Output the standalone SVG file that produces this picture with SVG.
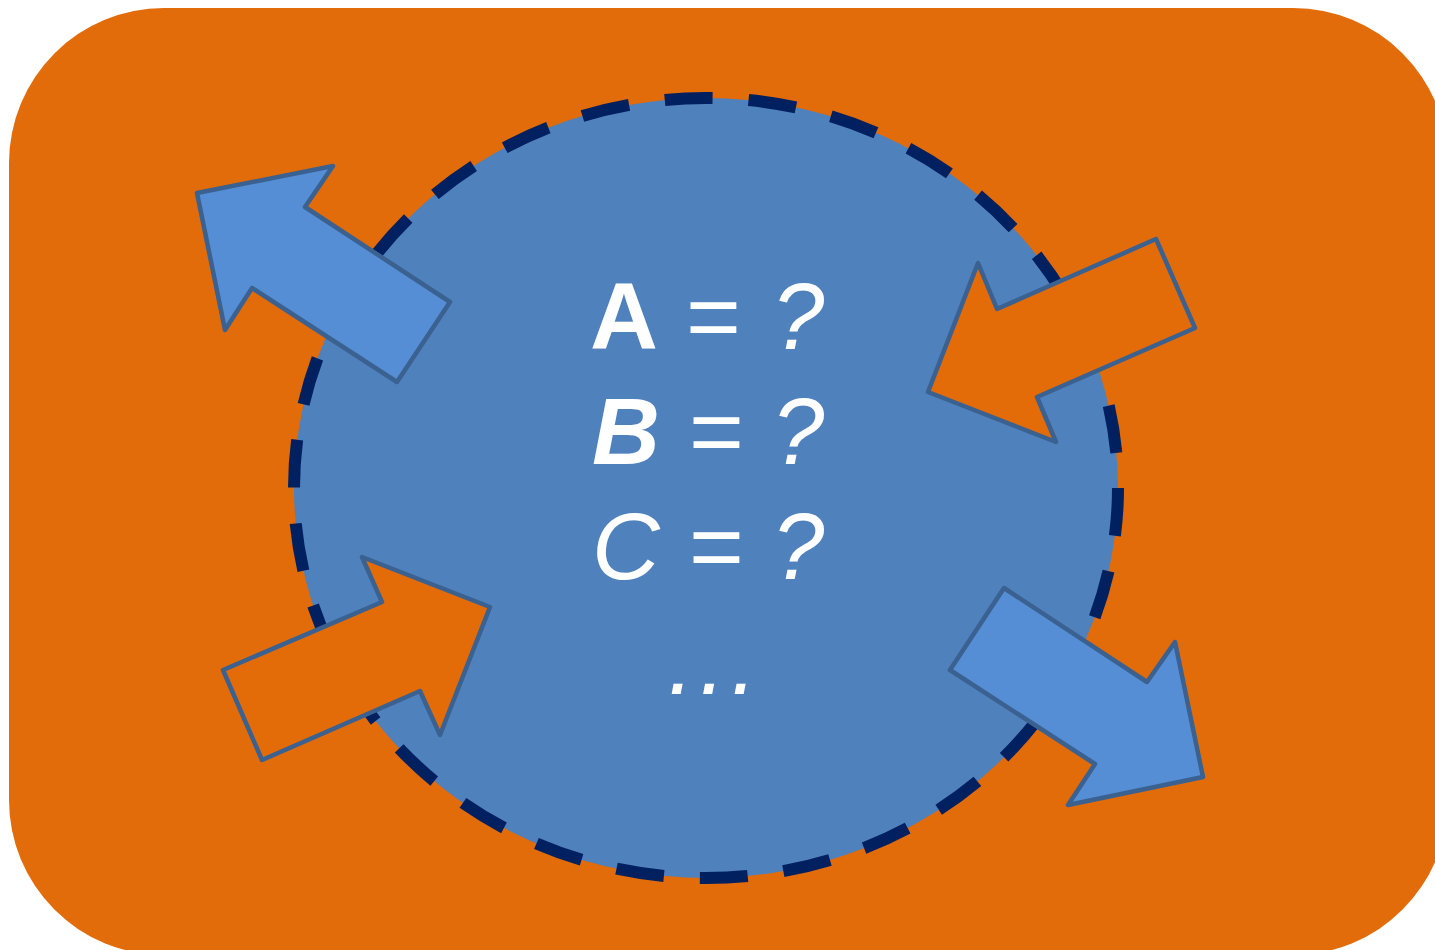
<svg xmlns="http://www.w3.org/2000/svg" width="1435" height="950" viewBox="0 0 1435 950">
<style>
.bg{fill:#E26B0A}
.circ{fill:#4F81BD;stroke:#002060;stroke-width:12;stroke-dasharray:48 36}
.arB{fill:#558ED5;stroke:#3A6190;stroke-width:4.5;stroke-linejoin:round}
.arO{fill:#E36C09;stroke:#3A6190;stroke-width:4.5;stroke-linejoin:round}
.t{font-family:"Liberation Sans",Arial,sans-serif;font-size:94px;fill:#FFFFFF}
.b{font-weight:bold}
.i{font-style:italic}
</style>
<g id="background">
<rect class="bg" x="9" y="8" width="1439" height="947" rx="155" ry="155"/>
</g>
<g id="circle">
<ellipse class="circ" cx="706" cy="488" rx="412" ry="390"/>
</g>
<g id="arrows">
<g id="arrow-top-left">
<polygon class="arB" points="197,193 333,166 305,207 450,302 397,382 252,288 225,330"/>
</g>
<g id="arrow-top-right">
<polygon class="arO" points="928,392 978,263 997,309 1156,239 1195,328 1037,397 1056,442"/>
</g>
<g id="arrow-bottom-left">
<polygon class="arO" points="223,670 382,602 362,557 490,607 440,735 420,691 262,760"/>
</g>
<g id="arrow-bottom-right">
<polygon class="arB" points="1004,588 1147,682 1175,642 1203,777 1068,805 1095,764 950,670"/>
</g>
</g>
<g id="text">
<text class="t b" x="590" y="349">A</text>
<text class="t" x="686" y="349">=</text>
<text class="t i" x="772" y="349">?</text>
<text class="t b i" x="592" y="464">B</text>
<text class="t" x="689" y="464">=</text>
<text class="t i" x="772" y="464">?</text>
<text class="t i" x="592" y="579">C</text>
<text class="t" x="689" y="579">=</text>
<text class="t i" x="772" y="579">?</text>
<text class="t i" x="668 699.5 731" y="694">...</text>
</g>
</svg>
